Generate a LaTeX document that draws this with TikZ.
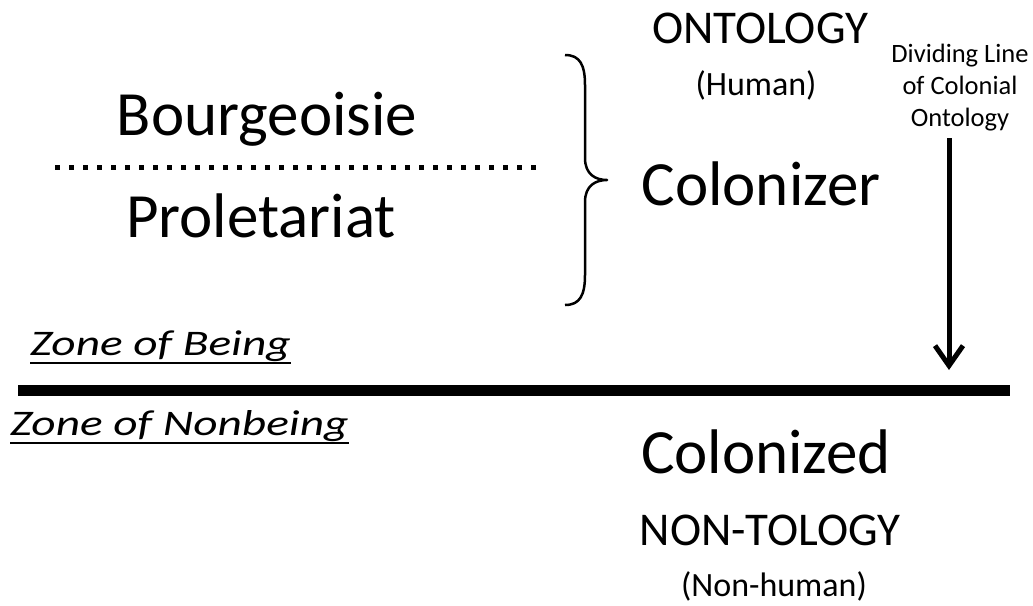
\documentclass[tikz,border=0pt]{standalone}
\usepackage{fontspec}
\setmainfont{Carlito}
\newfontfamily\zonefont{Carlito}[FakeStretch=1.315]
\usetikzlibrary{arrows.meta}
\tikzset{
  txt/.style={inner sep=0pt, outer sep=0pt, anchor=base},
  big/.style={txt, font=\fontsize{63}{75}\selectfont},
  caps/.style={txt, font=\fontsize{47}{56}\selectfont},
  paren/.style={txt, font=\fontsize{34}{41}\selectfont},
  zone/.style={txt, anchor=base west, font=\zonefont\fontsize{36}{43}\selectfont\itshape},
  small/.style={inner sep=0pt, outer sep=0pt, align=center, font=\fontsize{26.5}{32}\selectfont},
  ulline/.style={line width=2pt},
  divider/.style={line width=11pt},
  dotline/.style={line width=5pt, dash pattern=on 5pt off 9pt},
  bracestyle/.style={line width=2.5pt, line join=round},
  arrowstyle/.style={line width=5pt, -{Straight Barb[length=20pt,width=28pt,line width=5pt]}}
}
\begin{document}
\begin{tikzpicture}[x=1pt,y=-1pt]
\useasboundingbox (0,0) rectangle (1033,605);
% texts
\node[caps] (onto) at (760,43) {ONTOLOGY};
\node[paren] (human) at (756,95) {(Human)};
\node[big] (bourg) at (267,135) {Bourgeoisie};
\node[big] (prole) at (261,237) {Proletariat};
\node[big] (colonizer) at (761,205) {Colonizer};
\node[big] (colonized) at (766,473) {Colonized};
\node[caps] (nontology) at (770,545) {NON-TOLOGY};
\node[paren] (nonhuman) at (774,596) {(Non-human)};
\node[small, anchor=south] (div) at (960,131) {Dividing Line\\of Colonial\\Ontology};
\node[zone] (zb) at (30,355) {Zone of Being};
\node[zone] (znb) at (10,435) {Zone of Nonbeing};
% underlines
\draw[ulline] ([yshift=-8pt]zb.base west) -- ([yshift=-8pt]zb.base east);
\draw[ulline] ([yshift=-8pt]znb.base west) -- ([yshift=-8pt]znb.base east);
% dotted separator
\coordinate (dotL) at (55,167);
\coordinate (dotR) at (540,167);
\draw[dotline] (dotL) -- (dotR);
% brace
\draw[bracestyle] (565,55) .. controls (580,55) and (585,65) .. (585,85) -- (585,158)
  .. controls (585,174) and (595,180) .. (607,180)
  .. controls (595,180) and (585,186) .. (585,202) -- (585,275)
  .. controls (585,295) and (580,305) .. (565,305);
% dividing line
\coordinate (lineL) at (18,390);
\coordinate (lineR) at (1010,390);
\draw[divider] (lineL) -- (lineR);
% arrow
\coordinate (arrTop) at (949,138);
\coordinate (arrTip) at (949,370);
\draw[arrowstyle] (arrTop) -- (arrTip);
\end{tikzpicture}
\end{document}
